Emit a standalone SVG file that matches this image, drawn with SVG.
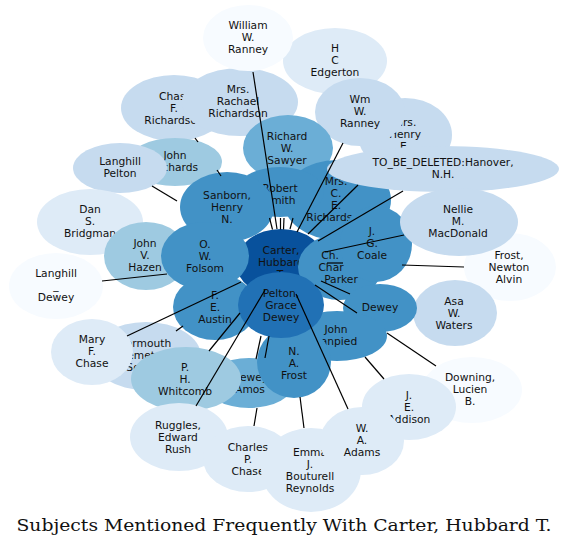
<svg xmlns="http://www.w3.org/2000/svg" width="569" height="548" viewBox="0 0 569 548">
<style>
.n text{font-family:"DejaVu Sans","Liberation Sans",sans-serif;font-size:10.7px;fill:#111;text-anchor:middle}
.c1{fill:#08519c}.c2{fill:#2171b5}.c3{fill:#4292c6}.c4{fill:#6baed6}.c5{fill:#9ecae1}.c6{fill:#c6dbef}.c7{fill:#deebf7}.c8{fill:#f7fbff}
.e line{stroke:#000;stroke-width:1.2}
.title{font-family:"DejaVu Serif","Liberation Serif",serif;font-size:17px;fill:#111;text-anchor:middle}
</style>
<rect width="569" height="548" fill="#fff"/>
<g class="n">
<g id="carter"><ellipse class="c1" cx="281" cy="263" rx="45" ry="34"/><text><tspan x="281" y="254">Carter,</tspan><tspan x="281" y="266">Hubbard</tspan><tspan x="281" y="278">T.</tspan></text></g>
<g id="edgerton"><ellipse class="c7" cx="335" cy="61" rx="52" ry="33"/><text><tspan x="335" y="52">H</tspan><tspan x="335" y="64">C</tspan><tspan x="335" y="76">Edgerton</tspan></text></g>
<g id="mrs-henry"><ellipse class="c6" cx="405" cy="135" rx="47" ry="37"/><text><tspan x="405" y="126">Mrs.</tspan><tspan x="405" y="138">Henry</tspan><tspan x="405" y="150">E.</tspan></text></g>
<g id="wm-ranney"><ellipse class="c6" cx="360" cy="112" rx="45" ry="34"/><text><tspan x="360" y="103">Wm</tspan><tspan x="360" y="115">W.</tspan><tspan x="360" y="127">Ranney</tspan></text></g>
<g id="chas-richardson"><ellipse class="c6" cx="174" cy="108" rx="53" ry="33"/><text><tspan x="174" y="100">Chas.</tspan><tspan x="174" y="112">F.</tspan><tspan x="174" y="124">Richardson</tspan></text></g>
<g id="rachael"><ellipse class="c6" cx="240" cy="102" rx="58" ry="34"/><text><tspan x="238" y="93">Mrs.</tspan><tspan x="238" y="105">Rachael</tspan><tspan x="238" y="117">Richardson</tspan></text></g>
<g id="william-ranney"><ellipse class="c8" cx="248" cy="38" rx="45" ry="33"/><text><tspan x="248" y="29">William</tspan><tspan x="248" y="41">W.</tspan><tspan x="248" y="53">Ranney</tspan></text></g>
<g id="sawyer"><ellipse class="c4" cx="288" cy="148" rx="45" ry="33"/><text><tspan x="287" y="140">Richard</tspan><tspan x="287" y="152">W.</tspan><tspan x="287" y="164">Sawyer</tspan></text></g>
<g id="mrs-ce-richardson"><ellipse class="c3" cx="337" cy="200" rx="54" ry="40"/><text><tspan x="336" y="185">Mrs.</tspan><tspan x="336" y="197">C.</tspan><tspan x="336" y="209">E.</tspan><tspan x="336" y="221">Richardson</tspan></text></g>
<g id="robert-smith"><ellipse class="c3" cx="280" cy="192" rx="44" ry="25"/><text><tspan x="280" y="192">Robert</tspan><tspan x="280" y="204">Smith</tspan></text></g>
<g id="john-richards"><ellipse class="c5" cx="175" cy="162" rx="47" ry="24"/><text><tspan x="175" y="159">John</tspan><tspan x="175" y="171">Richards</tspan></text></g>
<g id="langhill-pelton"><ellipse class="c6" cx="120" cy="168" rx="47" ry="25"/><text><tspan x="120" y="165">Langhill</tspan><tspan x="120" y="177">Pelton</tspan></text></g>
<g id="sanborn"><ellipse class="c3" cx="227" cy="207" rx="47" ry="35"/><text><tspan x="227" y="199">Sanborn,</tspan><tspan x="227" y="211">Henry</tspan><tspan x="227" y="223">N.</tspan></text></g>
<g id="hanover"><ellipse class="c6" cx="443" cy="169" rx="116" ry="23"/><text><tspan x="443" y="166">TO_BE_DELETED:Hanover,</tspan><tspan x="443" y="178">N.H.</tspan></text></g>
<g id="bridgman"><ellipse class="c7" cx="90" cy="222" rx="53" ry="33"/><text><tspan x="90" y="213">Dan</tspan><tspan x="90" y="225">S.</tspan><tspan x="90" y="237">Bridgman</tspan></text></g>
<g id="hazen"><ellipse class="c5" cx="146" cy="256" rx="42" ry="34"/><text><tspan x="145" y="247">John</tspan><tspan x="145" y="259">V.</tspan><tspan x="145" y="271">Hazen</tspan></text></g>
<g id="langhill-dewey"><ellipse class="c8" cx="56" cy="286" rx="47" ry="33"/><text><tspan x="56" y="277">Langhill</tspan><tspan x="56" y="289">_</tspan><tspan x="56" y="301">Dewey</tspan></text></g>
<g id="folsom"><ellipse class="c3" cx="205" cy="256" rx="44" ry="34"/><text><tspan x="205" y="248">O.</tspan><tspan x="205" y="260">W.</tspan><tspan x="205" y="272">Folsom</tspan></text></g>
<g id="yarmouth"><ellipse class="c6" cx="146" cy="356" rx="55" ry="34"/><text><tspan x="146" y="347">Yarmouth</tspan><tspan x="146" y="359">Cemetery</tspan><tspan x="146" y="371">Society</tspan></text></g>
<g id="mary-chase"><ellipse class="c7" cx="92" cy="352" rx="41" ry="33"/><text><tspan x="92" y="343">Mary</tspan><tspan x="92" y="355">F.</tspan><tspan x="92" y="367">Chase</tspan></text></g>
<g id="austin"><ellipse class="c3" cx="215" cy="307" rx="42" ry="33"/><text><tspan x="215" y="299">F.</tspan><tspan x="215" y="311">E.</tspan><tspan x="215" y="323">Austin</tspan></text></g>
<g id="parker"><ellipse class="c3" cx="340" cy="267" rx="42" ry="33"/><text><tspan x="330" y="259">Ch.</tspan><tspan x="331" y="271">Char</tspan><tspan x="341" y="283">Parker</tspan></text></g>
<g id="coale"><ellipse class="c3" cx="376" cy="244" rx="36" ry="38"/><text><tspan x="372" y="235">J.</tspan><tspan x="372" y="247">G.</tspan><tspan x="372" y="259">Coale</tspan></text></g>
<g id="frost-newton"><ellipse class="c8" cx="510" cy="267" rx="46" ry="34"/><text><tspan x="509" y="259">Frost,</tspan><tspan x="509" y="271">Newton</tspan><tspan x="509" y="283">Alvin</tspan></text></g>
<g id="macdonald"><ellipse class="c6" cx="459" cy="222" rx="59" ry="34"/><text><tspan x="458" y="213">Nellie</tspan><tspan x="458" y="225">M.</tspan><tspan x="458" y="237">MacDonald</tspan></text></g>
<g id="waters"><ellipse class="c6" cx="455" cy="313" rx="42" ry="33"/><text><tspan x="454" y="305">Asa</tspan><tspan x="454" y="317">W.</tspan><tspan x="454" y="329">Waters</tspan></text></g>
<g id="dewey"><ellipse class="c3" cx="380" cy="308" rx="37" ry="24"/><text><tspan x="380" y="311">Dewey</tspan></text></g>
<g id="lanpied"><ellipse class="c3" cx="337" cy="336" rx="50" ry="25"/><text><tspan x="336" y="333">John</tspan><tspan x="336" y="345">Lanpied</tspan></text></g>
<g id="dewey-amos"><ellipse class="c4" cx="249" cy="383" rx="45" ry="25"/><text><tspan x="250" y="381">Dewey</tspan><tspan x="250" y="393">Amos</tspan></text></g>
<g id="na-frost"><ellipse class="c3" cx="294" cy="362" rx="37" ry="36"/><text><tspan x="294" y="355">N.</tspan><tspan x="294" y="367">A.</tspan><tspan x="294" y="379">Frost</tspan></text></g>
<g id="pelton-grace"><ellipse class="c2" cx="281" cy="305" rx="43" ry="33"/><text><tspan x="281" y="297">Pelton,</tspan><tspan x="281" y="309">Grace</tspan><tspan x="281" y="321">Dewey</tspan></text></g>
<g id="whitcomb"><ellipse class="c5" cx="186" cy="379" rx="55" ry="32"/><text><tspan x="185" y="371">P.</tspan><tspan x="185" y="383">H.</tspan><tspan x="185" y="395">Whitcomb</tspan></text></g>
<g id="ruggles"><ellipse class="c7" cx="179" cy="437" rx="49" ry="34"/><text><tspan x="178" y="429">Ruggles,</tspan><tspan x="178" y="441">Edward</tspan><tspan x="178" y="453">Rush</tspan></text></g>
<g id="charles-chase"><ellipse class="c7" cx="248" cy="459" rx="45" ry="33"/><text><tspan x="248" y="451">Charles</tspan><tspan x="248" y="463">P.</tspan><tspan x="248" y="475">Chase</tspan></text></g>
<g id="emma"><ellipse class="c7" cx="311" cy="470" rx="50" ry="42"/><text><tspan x="310" y="456">Emma</tspan><tspan x="310" y="468">J.</tspan><tspan x="310" y="480">Bouturell</tspan><tspan x="310" y="492">Reynolds</tspan></text></g>
<g id="downing"><ellipse class="c8" cx="472" cy="390" rx="50" ry="33"/><text><tspan x="470" y="381">Downing,</tspan><tspan x="470" y="393">Lucien</tspan><tspan x="470" y="405">B.</tspan></text></g>
<g id="addison"><ellipse class="c7" cx="409" cy="407" rx="47" ry="33"/><text><tspan x="409" y="399">J.</tspan><tspan x="409" y="411">E.</tspan><tspan x="409" y="423">Addison</tspan></text></g>
<g id="adams"><ellipse class="c7" cx="362" cy="441" rx="42" ry="34"/><text><tspan x="362" y="432">W.</tspan><tspan x="362" y="444">A.</tspan><tspan x="362" y="456">Adams</tspan></text></g>
</g>
<g id="connectors" class="e">
<line x1="253" y1="72" x2="277" y2="229"/>
<line x1="343" y1="143" x2="297" y2="232"/>
<line x1="358" y1="185" x2="308" y2="234"/>
<line x1="403" y1="191" x2="318" y2="241"/>
<line x1="404" y1="235" x2="325" y2="252"/>
<line x1="402" y1="265" x2="464" y2="267"/>
<line x1="327" y1="263" x2="343" y2="263"/>
<line x1="321" y1="281" x2="350" y2="294"/>
<line x1="315" y1="285" x2="357" y2="313"/>
<line x1="387" y1="333" x2="436" y2="366"/>
<line x1="365" y1="357" x2="384" y2="379"/>
<line x1="296" y1="294" x2="348" y2="409"/>
<line x1="300" y1="397" x2="304" y2="428"/>
<line x1="269" y1="336" x2="265" y2="358"/>
<line x1="261" y1="336" x2="256" y2="359"/>
<line x1="257" y1="408" x2="254" y2="426"/>
<line x1="265" y1="290" x2="196" y2="406"/>
<line x1="240" y1="313" x2="209" y2="351"/>
<line x1="241" y1="282" x2="127" y2="336"/>
<line x1="176" y1="331" x2="183" y2="326"/>
<line x1="102" y1="281" x2="167" y2="274"/>
<line x1="152" y1="186" x2="177" y2="201"/>
<line x1="217" y1="170" x2="221" y2="176"/>
<line x1="195" y1="138" x2="198" y2="142"/>
<line x1="269.5" y1="218" x2="272.5" y2="229.5"/>
<line x1="280.5" y1="218" x2="280.5" y2="229.5"/>
<line x1="284" y1="218" x2="283.5" y2="229.5"/>
<line x1="293" y1="218" x2="290" y2="229"/>
</g>
<text class="title" x="284" y="531" textLength="535" lengthAdjust="spacingAndGlyphs">Subjects Mentioned Frequently With Carter, Hubbard T.</text>
</svg>
